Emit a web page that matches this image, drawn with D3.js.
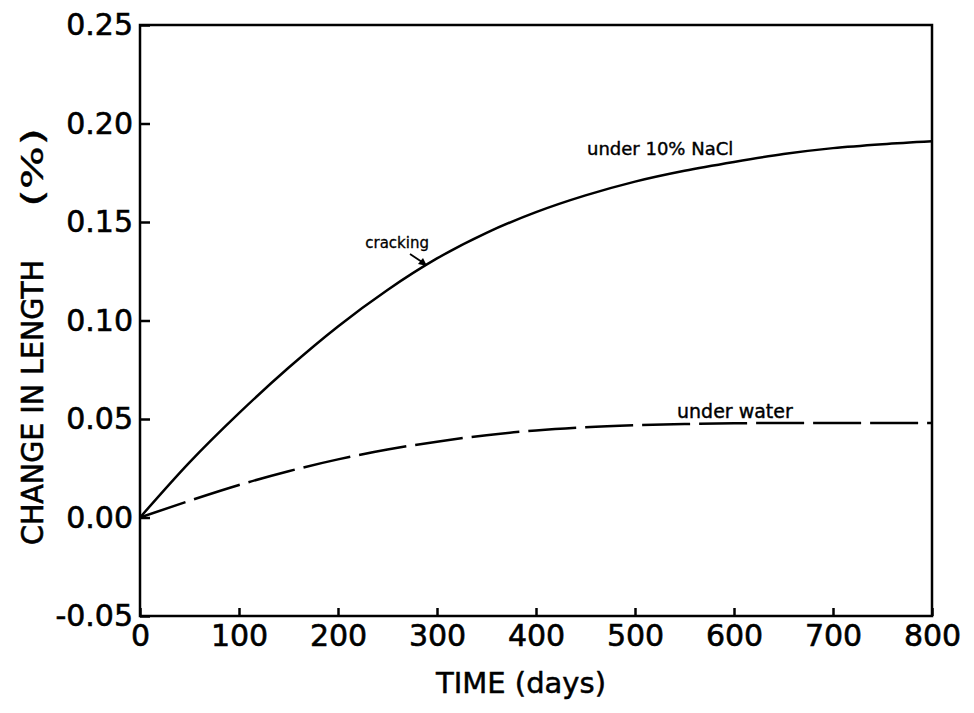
<!DOCTYPE html>
<html lang="en">
<head>
    <meta charset="UTF-8">
    <title>Change in length</title>
    <script src="https://cdn.jsdelivr.net/npm/d3@7"></script>
    <style>
        body { margin: 0; background: #fff; }
        svg { display: block; }
        .tick text { font-family: "DejaVu Sans", sans-serif; font-size: 30px; fill: #000; stroke: #000; stroke-width: 0.6px; }
    </style>
</head>
<body>
<svg id="chart" width="974" height="713"></svg>
<script>
    // values
    var days = [0, 50, 100, 150, 200, 250, 300, 350, 400, 450, 500, 550, 600, 650, 700, 750, 800];
    var nacl = [0, 0.028, 0.053, 0.076, 0.097, 0.1155, 0.1315, 0.1445, 0.155, 0.1635, 0.1705, 0.176, 0.1805, 0.1845, 0.1875, 0.1895, 0.191];
    var water = [0, 0.0085, 0.0165, 0.0235, 0.0295, 0.0345, 0.0385, 0.0418, 0.0442, 0.0458, 0.0468, 0.0474, 0.0478, 0.048, 0.048, 0.048, 0.048];
    var xTicks = [0, 100, 200, 300, 400, 500, 600, 700, 800];
    var yTicks = [-0.05, 0, 0.05, 0.10, 0.15, 0.20, 0.25];
    var yTickLabels = ["-0.05", "0.00", "0.05", "0.10", "0.15", "0.20", "0.25"];

    var mLeft = 140, mRight = 932, mTop = 25, mBottom = 616;
    var svg = d3.select("#chart");

    var x = d3.scaleLinear().domain([0, 800]).range([mLeft, mRight]);
    var y = d3.scaleLinear().domain([-0.05, 0.25]).range([mBottom, mTop]);

    svg.append("rect").attr("width", 974).attr("height", 713).attr("fill", "#fff");

    // y axis
    var yAxis = svg.append("g")
        .attr("transform", "translate(" + mLeft + ",0)")
        .call(d3.axisLeft(y).tickValues(yTicks).tickSizeInner(-10).tickSizeOuter(0).tickPadding(7)
            .tickFormat(function (d, i) { return yTickLabels[i]; }));
    yAxis.select(".domain").remove();
    yAxis.selectAll(".tick line").attr("stroke", "#000").attr("stroke-width", 2.5);

    // x axis
    var xAxis = svg.append("g")
        .attr("transform", "translate(0," + mBottom + ")")
        .call(d3.axisBottom(x).tickValues(xTicks).tickSizeInner(-8).tickSizeOuter(0).tickPadding(9));
    xAxis.select(".domain").remove();
    xAxis.selectAll(".tick line").attr("stroke", "#000").attr("stroke-width", 2.5);

    // frame
    svg.append("rect")
        .attr("x", mLeft).attr("y", mTop)
        .attr("width", mRight - mLeft).attr("height", mBottom - mTop)
        .attr("fill", "none").attr("stroke", "#000").attr("stroke-width", 2.5);

    var line = d3.line()
        .x(function (d) { return x(d[0]); })
        .y(function (d) { return y(d[1]); })
        .curve(d3.curveMonotoneX);

    svg.append("path")
        .datum(d3.zip(days, nacl))
        .attr("d", line)
        .attr("fill", "none").attr("stroke", "#000").attr("stroke-width", 2.5);

    svg.append("path")
        .datum(d3.zip(days, water))
        .attr("d", line)
        .attr("fill", "none").attr("stroke", "#000").attr("stroke-width", 2.5)
        .attr("stroke-dasharray", "48,9");

    // annotations
    svg.append("text").attr("x", 587).attr("y", 155)
        .attr("font-family", "DejaVu Sans, sans-serif").attr("font-size", 18).attr("fill", "#000")
        .attr("stroke", "#000").attr("stroke-width", 0.4)
        .text("under 10% NaCl");
    svg.append("text").attr("x", 677).attr("y", 418)
        .attr("font-family", "DejaVu Sans, sans-serif").attr("font-size", 19).attr("fill", "#000")
        .attr("stroke", "#000").attr("stroke-width", 0.4)
        .text("under water");
    svg.append("text").attr("x", 429).attr("y", 248).attr("text-anchor", "end")
        .attr("font-family", "DejaVu Sans, sans-serif").attr("font-size", 15).attr("fill", "#000")
        .attr("stroke", "#000").attr("stroke-width", 0.3)
        .text("cracking");
    svg.append("line")
        .attr("x1", 410).attr("y1", 254).attr("x2", 425).attr("y2", 264)
        .attr("stroke", "#000").attr("stroke-width", 1.8);
    svg.append("path")
        .attr("d", "M427,266 L418,264 L423,258 Z")
        .attr("fill", "#000");

    // axis titles
    svg.append("text")
        .attr("transform", "translate(43,545) rotate(-90)")
        .attr("font-family", "DejaVu Sans Condensed, DejaVu Sans, sans-serif").attr("font-size", 31).attr("fill", "#000")
        .attr("stroke", "#000").attr("stroke-width", 0.6)
        .attr("textLength", 285).attr("lengthAdjust", "spacingAndGlyphs")
        .text("CHANGE IN LENGTH");
    svg.append("text")
        .attr("transform", "translate(43,207) rotate(-90)")
        .attr("font-family", "DejaVu Sans Condensed, DejaVu Sans, sans-serif").attr("font-size", 31).attr("fill", "#000")
        .attr("stroke", "#000").attr("stroke-width", 0.3)
        .attr("textLength", 79).attr("lengthAdjust", "spacingAndGlyphs")
        .text("(%)");
    svg.append("text")
        .attr("x", 521).attr("y", 693).attr("text-anchor", "middle")
        .attr("font-family", "DejaVu Sans, sans-serif").attr("font-size", 29).attr("fill", "#000")
        .attr("stroke", "#000").attr("stroke-width", 0.5)
        .text("TIME (days)");
</script>
</body>
</html>
